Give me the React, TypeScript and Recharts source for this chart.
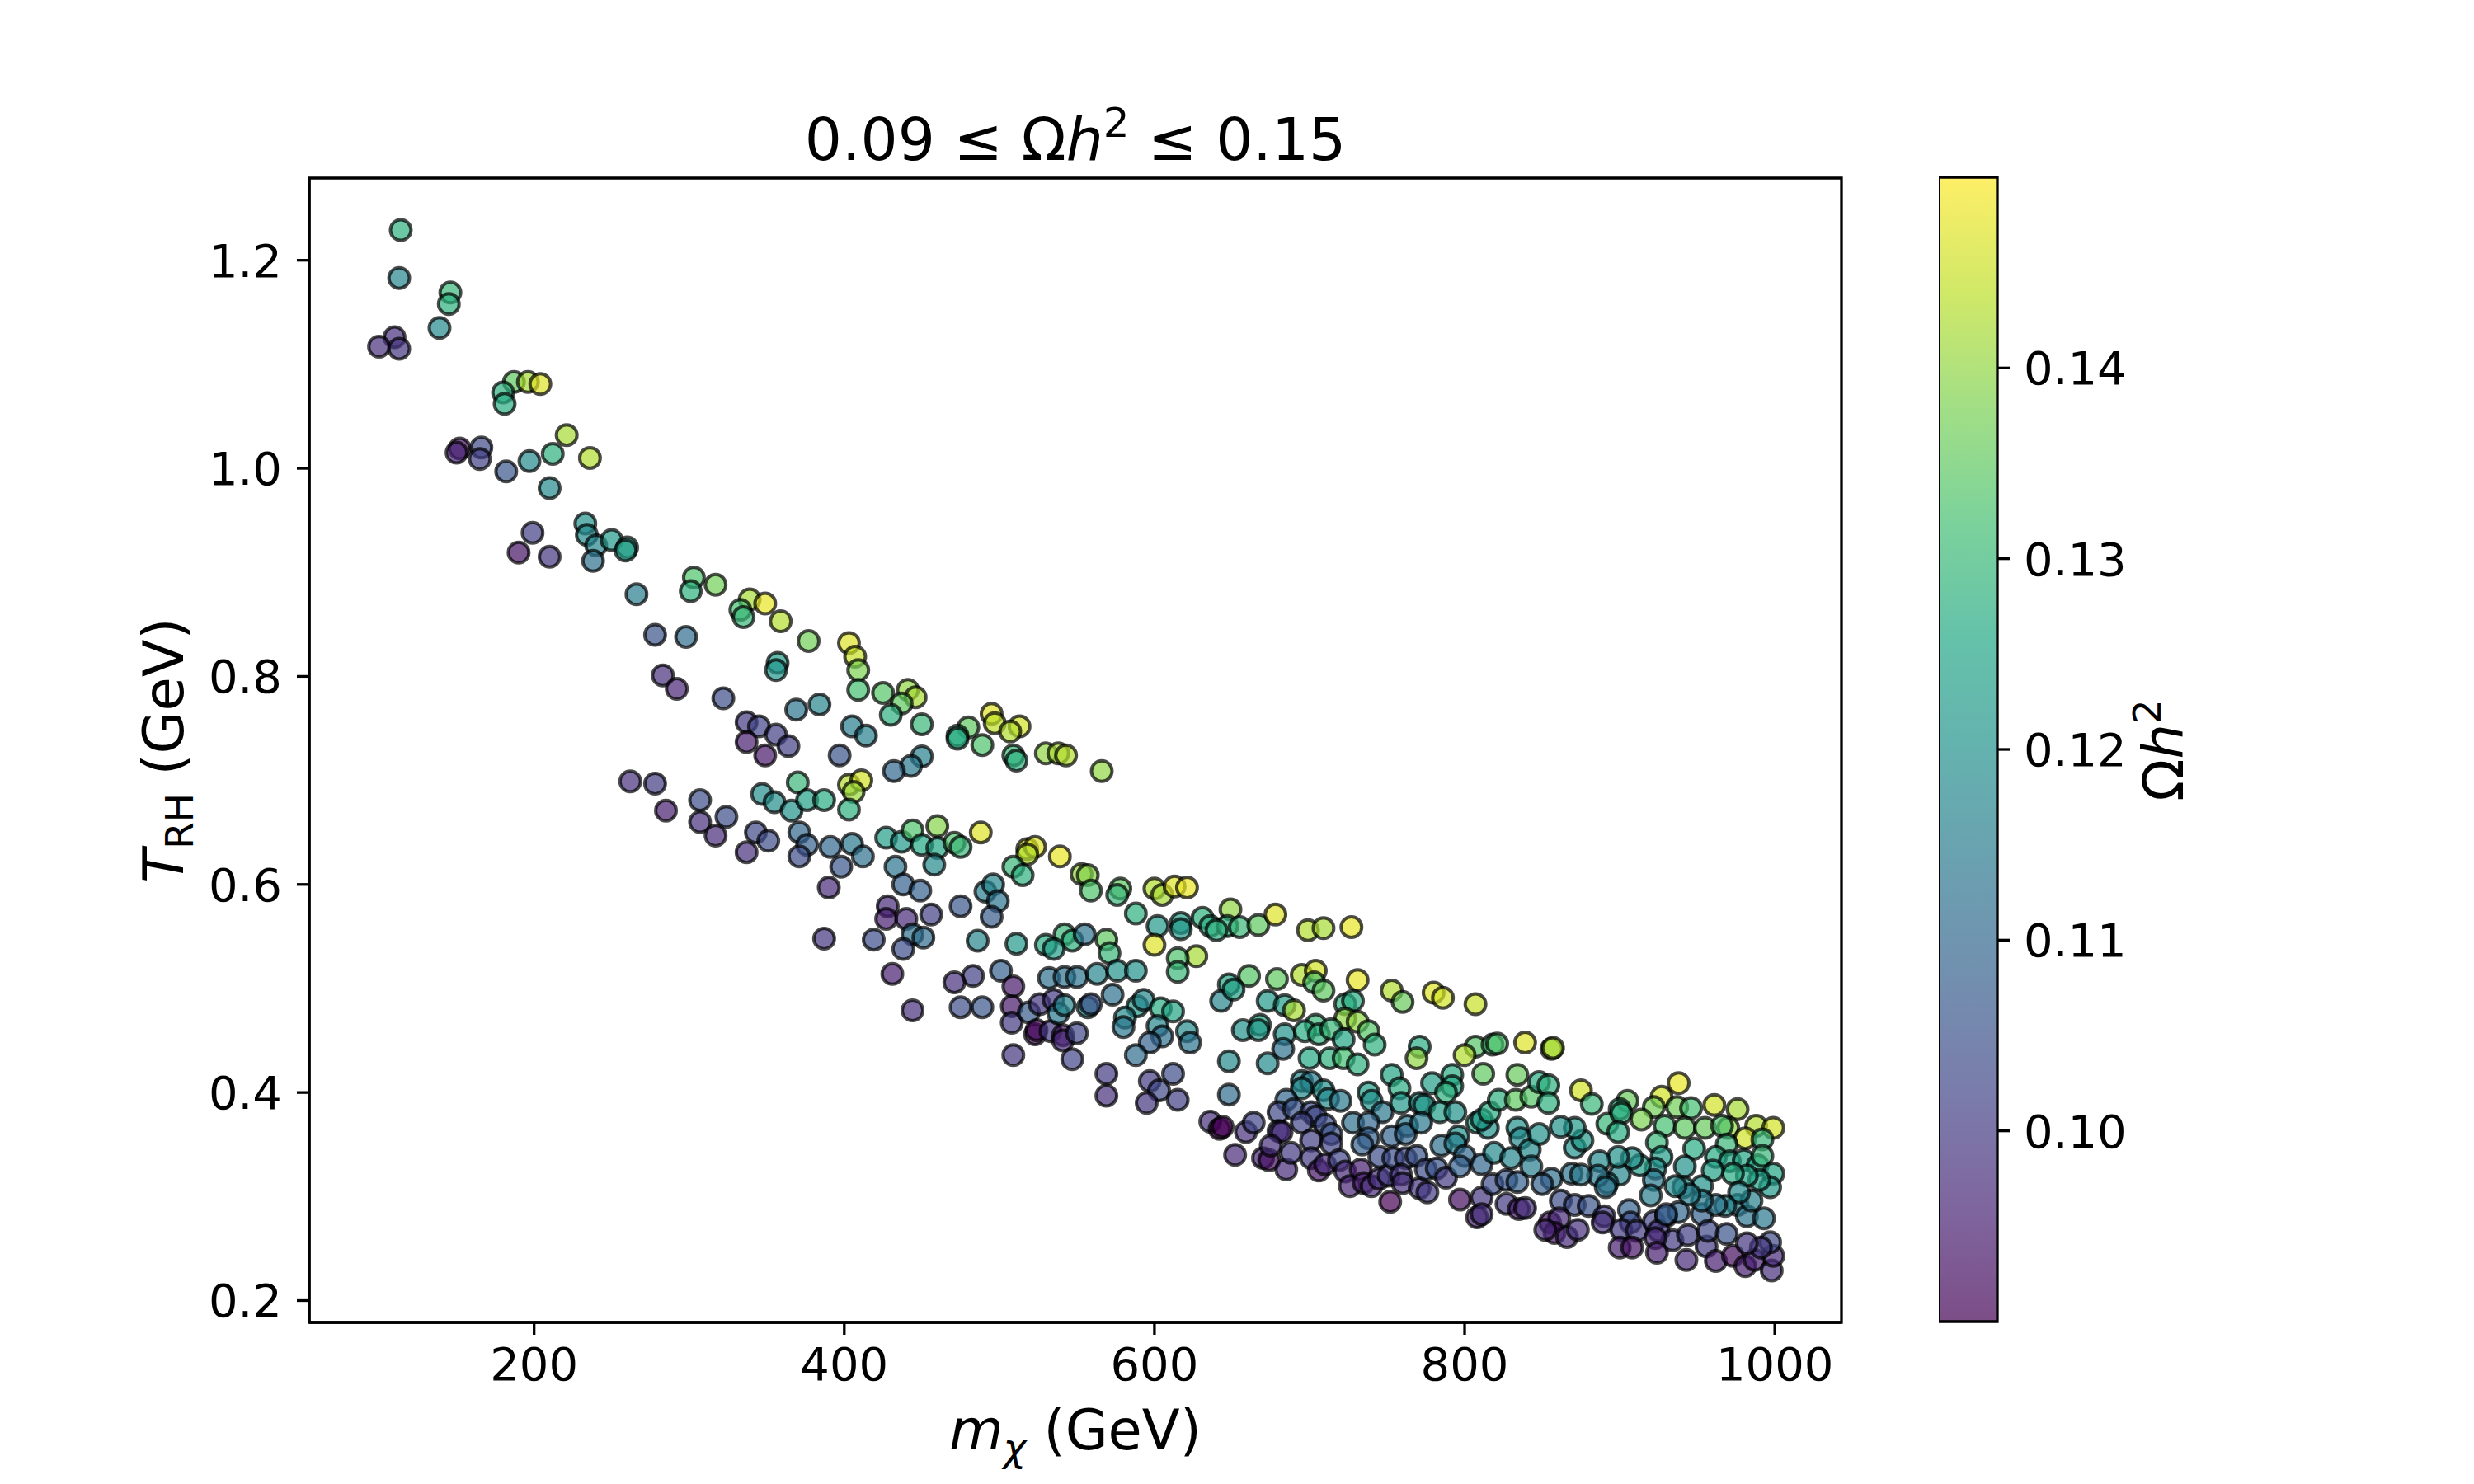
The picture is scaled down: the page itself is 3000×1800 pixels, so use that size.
import React from 'react'
import { ReferenceArea, Scatter, ScatterChart, XAxis, YAxis } from 'recharts'

// m_chi (GeV), T_RH (GeV), Omega h^2 for each scan point
const MASS = [
  114, 113, 146, 145, 139, 110, 100, 113, 187, 196, 204, 180, 181, 221, 152, 150, 166, 165, 182, 197,
  212, 236, 210, 199, 190, 210, 233, 234, 240, 250, 260, 259, 238, 266, 303, 301, 317, 339, 349, 333,
  335, 359, 278, 298, 377, 403,
  407, 409, 357, 356, 409, 425, 441, 446, 437, 430, 450, 369, 384, 405, 414, 337, 345, 356, 364, 337,
  349, 397, 450, 443, 432, 495, 497, 513, 507, 480, 473, 473, 489, 509, 511, 530, 538, 543, 566, 370,
  403, 411, 406, 403, 347, 355, 366, 376, 387, 343, 351, 337, 371, 376, 371, 391, 405, 412, 398, 390,
  427, 437, 444, 450, 460, 460, 471, 475, 488, 458, 433, 438, 449, 428, 427, 440, 456, 444, 451, 419,
  438, 387, 431, 475, 491, 496, 499, 495, 518, 523, 518, 539, 509, 515, 553, 557, 559, 578, 576, 600,
  605, 613, 621, 588, 602, 617, 617, 631, 636, 649, 647, 600, 627, 615, 615, 569, 571, 542, 547, 555,
  530, 535, 511, 486, 501, 483, 471, 509, 532, 542, 550, 563, 576, 588, 648,
  444, 475, 489, 508, 508, 519, 526, 535, 523, 524, 533, 541, 541, 550, 538, 542, 557, 559, 509, 547,
  573, 589, 593, 581, 580, 604, 612, 602, 605, 597, 621, 623, 588, 569, 569, 597, 603, 595, 615, 612,
  643, 648, 648, 636, 642, 644, 652,
  283, 292, 322, 262, 278, 285, 307, 307, 317, 324,
  640, 655, 667, 678, 699, 709, 727, 661, 679, 695, 704, 703, 709, 731, 753, 760, 780, 786, 807, 651,
  673, 684, 690, 723, 728, 723, 731, 738, 742, 657, 668, 667, 684, 683, 704, 697, 706, 714, 722, 771,
  807, 818, 821, 839, 800,
  673, 700, 713, 722, 731, 769, 812, 834, 753, 758, 779, 792, 792, 788, 695, 701, 695, 709, 712, 720,
  738, 740, 747, 759, 771, 774, 784, 794, 685, 680, 690, 701, 704, 680, 682, 695, 710, 714, 701, 714,
  728, 738, 738, 734, 753, 763, 762, 772, 659, 664, 670, 674, 675, 685, 688, 701, 706, 710, 719, 723,
  726, 733, 735, 740, 745, 751, 752, 745, 754, 762, 769, 759, 760, 771, 776, 775, 782, 788, 785, 796,
  794, 800, 797, 797, 811, 808, 811, 811, 818, 827, 834, 827, 835, 839, 808, 815, 811, 816, 822, 833,
  843, 834, 836, 819, 830, 842, 843, 848, 848,
  856, 857, 854, 854, 875, 882, 905, 927, 938, 937, 946, 961, 976, 900, 922,
  892, 901, 899, 914, 929, 942, 955, 970, 966, 988, 999, 981, 992, 969, 924, 948, 962, 971, 980, 989,
  992, 999, 997, 990, 982, 973, 960, 953, 942, 941, 927, 923, 922, 920, 913, 908, 900, 899, 892, 887,
  886, 871, 876, 871, 862, 856, 850, 869, 875, 891, 862, 871, 880, 890, 889, 906, 907, 901, 911, 922,
  930, 925, 934, 923, 900, 908, 924, 943, 944, 938, 953, 956, 957, 969, 962, 973, 981, 987, 998, 999,
  997, 991, 982, 976, 982, 993, 985, 977, 968, 962, 953, 945, 936, 930, 855, 861, 858, 866, 873, 852,
]

const TRH = [
  1.229, 1.183, 1.169, 1.158, 1.135, 1.126, 1.117, 1.115, 1.083, 1.083, 1.081, 1.073, 1.062, 1.032, 1.019, 1.015, 1.02, 1.009, 0.997, 1.007,
  1.014, 1.01, 0.981, 0.938, 0.919, 0.915, 0.947, 0.936, 0.926, 0.931, 0.924, 0.921, 0.911, 0.879, 0.895, 0.882, 0.888, 0.874, 0.87, 0.864,
  0.857, 0.853, 0.84, 0.838, 0.834, 0.832,
  0.819, 0.806, 0.813, 0.806, 0.787, 0.784, 0.787, 0.78, 0.774, 0.763, 0.754, 0.768, 0.773, 0.752, 0.743, 0.756, 0.752, 0.744, 0.733, 0.737,
  0.724, 0.724, 0.723, 0.714, 0.709, 0.764, 0.755, 0.752, 0.747, 0.751, 0.743, 0.74, 0.734, 0.724, 0.719, 0.726, 0.726, 0.724, 0.709, 0.698,
  0.696, 0.7, 0.689, 0.672, 0.687, 0.679, 0.671, 0.681, 0.681, 0.65, 0.642, 0.631, 0.65, 0.638, 0.627, 0.636, 0.639, 0.627, 0.617, 0.597,
  0.645, 0.641, 0.652, 0.638, 0.656, 0.635, 0.64, 0.636, 0.65, 0.619, 0.617, 0.6, 0.594, 0.579, 0.567, 0.567, 0.571, 0.552, 0.549, 0.547,
  0.538, 0.548, 0.514, 0.579, 0.593, 0.6, 0.584, 0.569, 0.634, 0.636, 0.629, 0.627, 0.617, 0.609, 0.61, 0.609, 0.594, 0.596, 0.59, 0.596,
  0.59, 0.598, 0.597, 0.572, 0.56, 0.563, 0.557, 0.568, 0.56, 0.576, 0.56, 0.542, 0.531, 0.529, 0.516, 0.547, 0.534, 0.552, 0.546, 0.552,
  0.542, 0.538, 0.543, 0.546, 0.517, 0.512, 0.506, 0.502, 0.51, 0.511, 0.511, 0.514, 0.517, 0.517, 0.504,
  0.479, 0.482, 0.482, 0.483, 0.467, 0.477, 0.485, 0.489, 0.456, 0.46, 0.459, 0.455, 0.45, 0.457, 0.476, 0.484, 0.482, 0.485, 0.436, 0.432,
  0.494, 0.483, 0.489, 0.472, 0.463, 0.481, 0.478, 0.464, 0.454, 0.448, 0.459, 0.448, 0.436, 0.418, 0.397, 0.411, 0.402, 0.39, 0.393, 0.418,
  0.488, 0.43, 0.398, 0.372, 0.365, 0.367, 0.34,
  0.801, 0.788, 0.779, 0.699, 0.697, 0.671, 0.681, 0.66, 0.647, 0.665,
  0.556, 0.559, 0.561, 0.571, 0.556, 0.558, 0.559, 0.512, 0.509, 0.513, 0.517, 0.506, 0.498, 0.508, 0.498, 0.487, 0.496, 0.491, 0.485, 0.499,
  0.488, 0.484, 0.479, 0.485, 0.488, 0.471, 0.468, 0.459, 0.446, 0.46, 0.465, 0.46, 0.456, 0.442, 0.465, 0.459, 0.456, 0.461, 0.451, 0.444,
  0.444, 0.446, 0.447, 0.448, 0.436,
  0.428, 0.433, 0.433, 0.433, 0.427, 0.433, 0.418, 0.417, 0.417, 0.404, 0.409, 0.417, 0.406, 0.4, 0.411, 0.41, 0.404, 0.402, 0.394, 0.392,
  0.4, 0.392, 0.381, 0.39, 0.39, 0.388, 0.381, 0.381, 0.393, 0.381, 0.384, 0.381, 0.377, 0.363, 0.362, 0.371, 0.369, 0.36, 0.354, 0.351,
  0.371, 0.371, 0.356, 0.35, 0.358, 0.368, 0.36, 0.371, 0.362, 0.371, 0.337, 0.335, 0.349, 0.326, 0.342, 0.337, 0.325, 0.331, 0.335, 0.324,
  0.31, 0.326, 0.313, 0.31, 0.317, 0.32, 0.295, 0.338, 0.337, 0.337, 0.339, 0.321, 0.313, 0.308, 0.304, 0.326, 0.327, 0.318, 0.349, 0.358,
  0.351, 0.339, 0.329, 0.297, 0.299, 0.28, 0.283, 0.331, 0.312, 0.316, 0.314, 0.293, 0.288, 0.289, 0.371, 0.366, 0.374, 0.381, 0.393, 0.393,
  0.396, 0.366, 0.356, 0.342, 0.337, 0.345, 0.329, 0.36, 0.41,
  0.442, 0.443, 0.407, 0.39, 0.402, 0.389, 0.392, 0.396, 0.409, 0.386, 0.385, 0.388, 0.384, 0.384, 0.386,
  0.37, 0.38, 0.362, 0.374, 0.368, 0.366, 0.366, 0.366, 0.368, 0.368, 0.366, 0.356, 0.355, 0.35, 0.352, 0.346, 0.338, 0.334, 0.335, 0.33,
  0.339, 0.322, 0.309, 0.316, 0.32, 0.322, 0.325, 0.31, 0.329, 0.309, 0.338, 0.327, 0.316, 0.301, 0.33, 0.337, 0.321, 0.338, 0.313, 0.334,
  0.32, 0.347, 0.354, 0.366, 0.367, 0.317, 0.312, 0.322, 0.321, 0.309, 0.296, 0.292, 0.291, 0.281, 0.275, 0.287, 0.275, 0.268, 0.267, 0.276,
  0.281, 0.267, 0.258, 0.26, 0.251, 0.251, 0.246, 0.239, 0.263, 0.285, 0.283, 0.252, 0.267, 0.264, 0.238, 0.243, 0.233, 0.239, 0.229, 0.243,
  0.256, 0.251, 0.255, 0.292, 0.281, 0.279, 0.296, 0.304, 0.291, 0.292, 0.296, 0.302, 0.31, 0.283, 0.275, 0.279, 0.265, 0.261, 0.268, 0.268,
]

const OMEGA = [
  0.128, 0.117, 0.13, 0.128, 0.118, 0.098, 0.098, 0.099, 0.135, 0.142, 0.147, 0.128, 0.127, 0.142, 0.093, 0.096, 0.103, 0.101, 0.106, 0.118,
  0.128, 0.143, 0.118, 0.101, 0.093, 0.099, 0.12, 0.118, 0.117, 0.122, 0.125, 0.123, 0.112, 0.115, 0.133, 0.128, 0.137, 0.142, 0.148, 0.132,
  0.13, 0.143, 0.105, 0.111, 0.137, 0.147,
  0.145, 0.138, 0.123, 0.121, 0.132, 0.134, 0.14, 0.142, 0.135, 0.128, 0.13, 0.113, 0.117, 0.115, 0.116, 0.1, 0.102, 0.101, 0.101, 0.095,
  0.094, 0.105, 0.116, 0.114, 0.11, 0.147, 0.144, 0.146, 0.143, 0.135, 0.128, 0.127, 0.133, 0.13, 0.128, 0.14, 0.142, 0.143, 0.14, 0.13,
  0.143, 0.146, 0.141, 0.128, 0.119, 0.119, 0.12, 0.124, 0.127, 0.103, 0.104, 0.098, 0.11, 0.108, 0.104, 0.11, 0.114, 0.112, 0.106, 0.097,
  0.123, 0.122, 0.133, 0.126, 0.139, 0.125, 0.133, 0.13, 0.147, 0.118, 0.113, 0.108, 0.108, 0.097, 0.095, 0.097, 0.101, 0.112, 0.111, 0.104,
  0.104, 0.099, 0.095, 0.106, 0.115, 0.117, 0.113, 0.107, 0.146, 0.147, 0.143, 0.148, 0.13, 0.128, 0.14, 0.139, 0.133, 0.135, 0.13, 0.143,
  0.142, 0.147, 0.148, 0.128, 0.122, 0.123, 0.122, 0.128, 0.127, 0.14, 0.128, 0.147, 0.142, 0.133, 0.13, 0.135, 0.13, 0.13, 0.128, 0.113,
  0.127, 0.123, 0.122, 0.117, 0.108, 0.101, 0.098, 0.094, 0.112, 0.112, 0.113, 0.117, 0.12, 0.12, 0.125,
  0.098, 0.104, 0.106, 0.094, 0.1, 0.107, 0.099, 0.1, 0.092, 0.091, 0.1, 0.094, 0.097, 0.102, 0.114, 0.117, 0.118, 0.105, 0.099, 0.102,
  0.112, 0.122, 0.117, 0.118, 0.114, 0.127, 0.125, 0.117, 0.112, 0.109, 0.118, 0.113, 0.111, 0.1, 0.098, 0.1, 0.103, 0.099, 0.101, 0.104,
  0.117, 0.118, 0.111, 0.098, 0.09, 0.09, 0.097,
  0.098, 0.096, 0.104, 0.098, 0.1, 0.095, 0.104, 0.098, 0.097, 0.104,
  0.128, 0.13, 0.135, 0.147, 0.143, 0.142, 0.148, 0.134, 0.135, 0.143, 0.146, 0.133, 0.135, 0.148, 0.143, 0.136, 0.147, 0.146, 0.145, 0.124,
  0.122, 0.123, 0.142, 0.128, 0.127, 0.14, 0.14, 0.134, 0.128, 0.12, 0.125, 0.122, 0.12, 0.112, 0.13, 0.127, 0.128, 0.13, 0.125, 0.127,
  0.134, 0.132, 0.133, 0.147, 0.143,
  0.118, 0.126, 0.128, 0.132, 0.128, 0.14, 0.135, 0.136, 0.125, 0.127, 0.123, 0.127, 0.126, 0.128, 0.117, 0.115, 0.118, 0.12, 0.118, 0.114,
  0.123, 0.12, 0.114, 0.122, 0.12, 0.122, 0.123, 0.12, 0.11, 0.103, 0.105, 0.104, 0.103, 0.1, 0.097, 0.102, 0.104, 0.105, 0.101, 0.102,
  0.112, 0.11, 0.108, 0.108, 0.109, 0.114, 0.11, 0.114, 0.098, 0.102, 0.096, 0.092, 0.098, 0.097, 0.1, 0.1, 0.093, 0.097, 0.102, 0.097,
  0.096, 0.095, 0.095, 0.097, 0.098, 0.1, 0.09, 0.104, 0.104, 0.103, 0.105, 0.099, 0.098, 0.099, 0.1, 0.104, 0.105, 0.1, 0.112, 0.12,
  0.116, 0.11, 0.108, 0.092, 0.099, 0.095, 0.098, 0.11, 0.104, 0.106, 0.108, 0.1, 0.094, 0.098, 0.125, 0.12, 0.122, 0.127, 0.128, 0.135,
  0.134, 0.12, 0.118, 0.118, 0.117, 0.118, 0.115, 0.12, 0.127,
  0.143, 0.142, 0.128, 0.128, 0.146, 0.13, 0.136, 0.146, 0.148, 0.137, 0.132, 0.146, 0.142, 0.127, 0.137,
  0.13, 0.128, 0.127, 0.138, 0.132, 0.135, 0.136, 0.14, 0.133, 0.143, 0.146, 0.146, 0.13, 0.13, 0.13, 0.127, 0.127, 0.125, 0.125, 0.126,
  0.13, 0.125, 0.122, 0.124, 0.125, 0.127, 0.124, 0.12, 0.12, 0.118, 0.123, 0.12, 0.114, 0.115, 0.123, 0.12, 0.117, 0.12, 0.115, 0.118,
  0.114, 0.12, 0.122, 0.122, 0.12, 0.112, 0.108, 0.113, 0.114, 0.113, 0.104, 0.104, 0.105, 0.1, 0.098, 0.108, 0.104, 0.1, 0.1, 0.102,
  0.104, 0.099, 0.1, 0.097, 0.095, 0.093, 0.095, 0.097, 0.101, 0.11, 0.108, 0.1, 0.103, 0.105, 0.095, 0.092, 0.095, 0.095, 0.098, 0.097,
  0.103, 0.1, 0.099, 0.116, 0.113, 0.114, 0.116, 0.118, 0.117, 0.113, 0.115, 0.116, 0.118, 0.108, 0.092, 0.097, 0.093, 0.097, 0.098, 0.097,
]

const X_TICKS = [200, 400, 600, 800, 1000]
const Y_TICKS = [0.2, 0.4, 0.6, 0.8, 1.0, 1.2]
const CBAR_TICKS = [0.1, 0.11, 0.12, 0.13, 0.14]
const X_DOMAIN = [55, 1043]
const Y_DOMAIN = [0.179, 1.279]
const OMEGA_MIN = 0.09
const OMEGA_MAX = 0.15

const VIRIDIS = ['#440154', '#482475', '#414487', '#355f8d', '#2a788e', '#21918c', '#22a884', '#44bf70', '#7ad151', '#bddf26', '#fde725']

function hexToRgb(h: string): number[] {
  return [1, 3, 5].map(i => parseInt(h.slice(i, i + 2), 16))
}

function viridis(v: number): string {
  const t = Math.max(0, Math.min(1, (v - OMEGA_MIN) / (OMEGA_MAX - OMEGA_MIN)))
  const pos = t * (VIRIDIS.length - 1)
  const i = Math.min(VIRIDIS.length - 2, Math.floor(pos))
  const f = pos - i
  const a = hexToRgb(VIRIDIS[i])
  const b = hexToRgb(VIRIDIS[i + 1])
  const c = a.map((ch, k) => Math.round(ch + (b[k] - ch) * f))
  return `rgb(${c[0]},${c[1]},${c[2]})`
}

const points = MASS.map((m, i) => ({ mass: m, trh: TRH[i], omega: OMEGA[i] }))

const FONT = 'DejaVu Sans'
const tickStyle = { fontSize: 56, fill: '#000', fontFamily: FONT }
const lineStyle = { stroke: '#000', strokeWidth: 3.3 }

function Dot(props: any) {
  const { cx, cy, payload } = props
  if (cx == null || cy == null) return null
  return (
    <circle
      cx={cx}
      cy={cy}
      r={12.5}
      fill={viridis(payload.omega)}
      fillOpacity={0.7}
      stroke="#000"
      strokeOpacity={0.7}
      strokeWidth={4}
    />
  )
}

function Labels() {
  return (
    <svg width={3000} height={1800} style={{ position: 'absolute', left: 0, top: 0, pointerEvents: 'none' }}>
      <text x={1304} y={194} textAnchor="middle" fontFamily={FONT} fontSize={71} fill="#000">
        0.09 ≤ Ω<tspan fontStyle="italic">h</tspan>
        <tspan dy={-28} fontSize={50}>2</tspan>
        <tspan dy={28}> ≤ 0.15</tspan>
      </text>
      <text x={1304} y={1758} textAnchor="middle" fontFamily={FONT} fontSize={67} fill="#000">
        <tspan fontStyle="italic">m</tspan>
        <tspan dy={14} fontSize={47} fontStyle="italic">χ</tspan>
        <tspan dy={-14}> (GeV)</tspan>
      </text>
      <text x={222} y={910} transform="rotate(-90 222 910)" textAnchor="middle" fontFamily={FONT} fontSize={67} fill="#000">
        <tspan fontStyle="italic">T</tspan>
        <tspan dy={12} fontSize={47}>RH</tspan>
        <tspan dy={-12}> (GeV)</tspan>
      </text>
      <text x={2647} y={910} transform="rotate(-90 2647 910)" textAnchor="middle" fontFamily={FONT} fontSize={67} fill="#000">
        Ω<tspan fontStyle="italic">h</tspan>
        <tspan dy={-27} fontSize={47}>2</tspan>
      </text>
    </svg>
  )
}

function Colorbar() {
  return (
    <div style={{ position: 'absolute', left: 2351, top: 0 }}>
      <ScatterChart width={400} height={1800} margin={{ top: 215, right: 129, bottom: 197, left: 0 }}>
        <defs>
          <linearGradient id="cbar" x1="0" y1="1" x2="0" y2="0">
            {VIRIDIS.map((c, i) => (
              <stop key={i} offset={i / (VIRIDIS.length - 1)} stopColor={c} stopOpacity={0.7} />
            ))}
          </linearGradient>
        </defs>
        <XAxis type="number" dataKey="x" domain={[0, 1]} hide />
        <YAxis
          type="number"
          dataKey="y"
          orientation="right"
          domain={[OMEGA_MIN, OMEGA_MAX]}
          ticks={CBAR_TICKS}
          tickFormatter={(v: number) => v.toFixed(2)}
          width={200}
          tick={tickStyle}
          tickSize={15}
          tickMargin={17}
          tickLine={lineStyle}
          axisLine={false}
          allowDataOverflow
        />
        <Scatter data={[{ x: 0, y: OMEGA_MIN }, { x: 1, y: OMEGA_MAX }]} shape={() => null} isAnimationActive={false} />
        <ReferenceArea
          y1={OMEGA_MIN}
          y2={OMEGA_MAX}
          fill="url(#cbar)"
          fillOpacity={1}
          stroke="#000"
          strokeWidth={3.3}
          ifOverflow="visible"
        />
      </ScatterChart>
    </div>
  )
}

export default function App() {
  return (
    <div style={{ position: 'absolute', left: 0, top: 0, width: 3000, height: 1800, background: '#fff' }}>
      <ScatterChart width={3000} height={1800} margin={{ top: 216, right: 767, bottom: 76, left: 255 }}>
        <XAxis
          type="number"
          dataKey="mass"
          domain={X_DOMAIN}
          ticks={X_TICKS}
          allowDataOverflow
          height={120}
          tick={tickStyle}
          tickSize={15}
          tickMargin={15}
          tickLine={lineStyle}
          axisLine={lineStyle}
        />
        <YAxis
          type="number"
          dataKey="trh"
          domain={Y_DOMAIN}
          ticks={Y_TICKS}
          tickFormatter={(v: number) => v.toFixed(1)}
          allowDataOverflow
          width={120}
          tick={tickStyle}
          tickSize={15}
          tickMargin={18}
          tickLine={lineStyle}
          axisLine={lineStyle}
        />
        <Scatter data={points} shape={Dot} isAnimationActive={false} />
        <ReferenceArea
          x1={X_DOMAIN[0]}
          x2={X_DOMAIN[1]}
          y1={Y_DOMAIN[0]}
          y2={Y_DOMAIN[1]}
          fill="none"
          stroke="#000"
          strokeWidth={3.3}
          ifOverflow="visible"
        />
      </ScatterChart>
      <Colorbar />
      <Labels />
    </div>
  )
}
